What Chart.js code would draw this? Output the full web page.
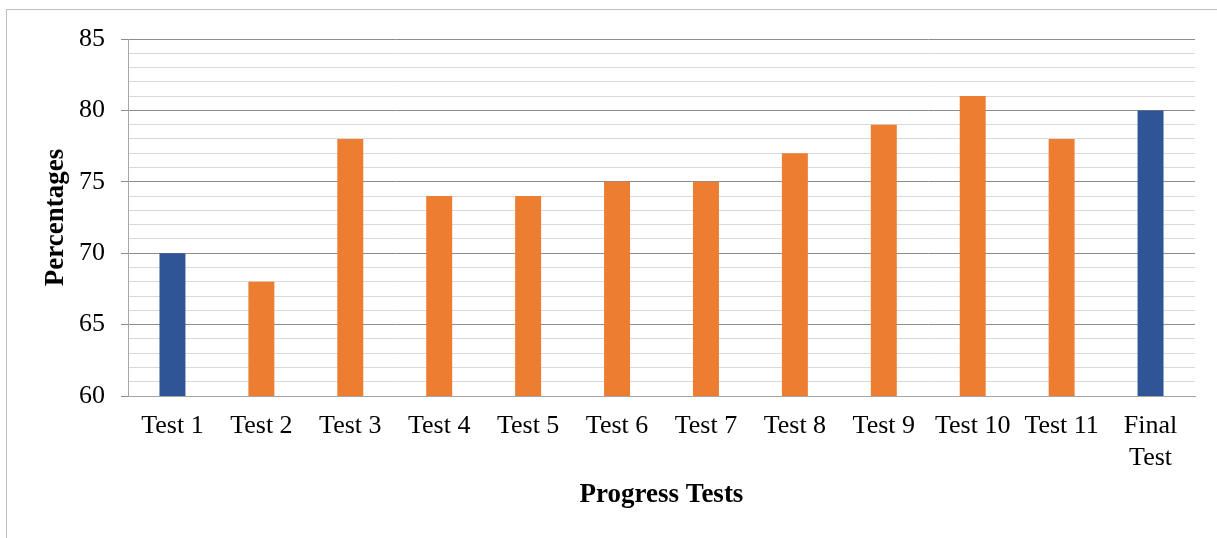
<!DOCTYPE html>
<html>
<head>
<meta charset="utf-8">
<script src="https://cdn.jsdelivr.net/npm/chart.js@4/dist/chart.umd.min.js"></script>
<style>
  body { margin: 0; background: #fff; overflow: hidden; }
  #frame { position: absolute; left: 6px; top: 9px; width: 1230px; height: 560px; border: 1px solid #bfbfbf; }
  #chart { position: absolute; left: 0; top: 0; }
</style>
</head>
<body>
<div id="frame"></div>
<canvas id="chart" width="1217" height="538"></canvas>
<script>
// categories and values
const categories = ['Test 1', 'Test 2', 'Test 3', 'Test 4', 'Test 5', 'Test 6', 'Test 7', 'Test 8', 'Test 9', 'Test 10', 'Test 11', ['Final', 'Test']];
const scores = [70, 68, 78, 74, 74, 75, 75, 77, 79, 81, 78, 80];
const barColors = ['#2f5597', '#ed7d31', '#ed7d31', '#ed7d31', '#ed7d31', '#ed7d31', '#ed7d31', '#ed7d31', '#ed7d31', '#ed7d31', '#ed7d31', '#2f5597'];
const yMin = 60;
const yMax = 85;
const majorStep = 5;

const serif = "'Times New Roman', 'Liberation Serif', serif";

const ctx = document.getElementById('chart').getContext('2d');

new Chart(ctx, {
    type: 'bar',
    data: {
        labels: categories,
        datasets: [{
            data: scores,
            backgroundColor: barColors,
            borderWidth: 0,
            categoryPercentage: 1,
            barPercentage: 0.292
        }]
    },
    options: {
        responsive: false,
        animation: false,
        layout: { padding: { left: 0, top: 39, right: 22, bottom: 0 } },
        plugins: { legend: { display: false }, tooltip: { enabled: false } },
        scales: {
            x: {
                grid: { display: false, drawTicks: false },
                border: { color: '#a6a6a6', width: 1 },
                ticks: { color: '#000', font: { family: serif, size: 26 }, padding: 15, maxRotation: 0, autoSkip: false },
                title: { display: true, text: 'Progress Tests', color: '#000', font: { family: serif, size: 27, weight: 'bold' }, padding: { top: 0, bottom: 27 } },
                afterFit: (scale) => { scale.height = 142; }
            },
            y: {
                min: yMin,
                max: yMax,
                grid: {
                    color: (c) => (c.tick && c.tick.value % majorStep === 0) ? '#8c8c8c' : '#d9d9d9',
                    tickColor: (c) => (c.tick && c.tick.value % majorStep === 0) ? '#8c8c8c' : 'rgba(0,0,0,0)',
                    tickLength: 7,
                    lineWidth: 1
                },
                border: { color: '#a6a6a6', width: 1 },
                ticks: {
                    stepSize: 1,
                    autoSkip: false,
                    color: '#000',
                    padding: 16,
                    font: { family: serif, size: 26 },
                    callback: (v) => v % majorStep === 0 ? v : ''
                },
                title: { display: true, text: 'Percentages', color: '#000', font: { family: serif, size: 27, weight: 'bold' }, padding: { top: 40, bottom: 0 } },
                afterFit: (scale) => { scale.width = 128; }
            }
        }
    }
});
</script>
</body>
</html>
